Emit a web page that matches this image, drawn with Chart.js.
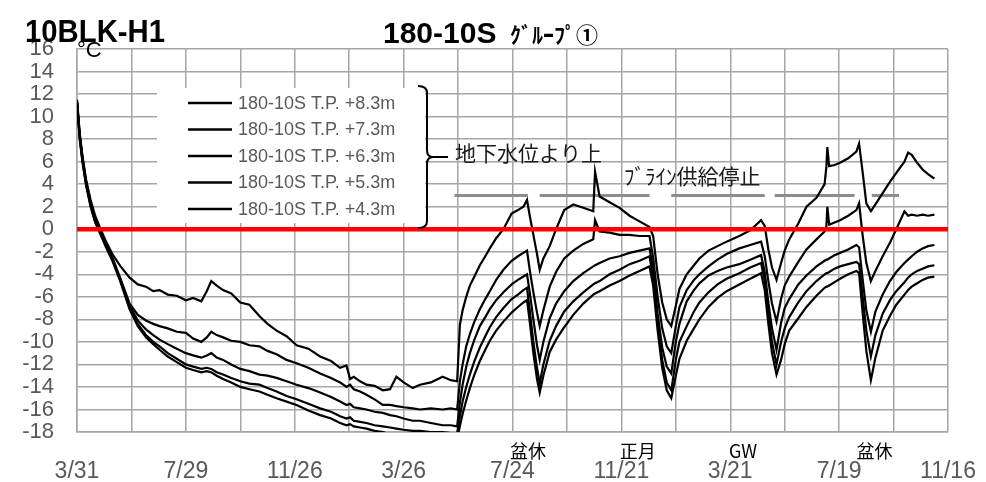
<!DOCTYPE html>
<html>
<head>
<meta charset="utf-8">
<script src="https://cdn.jsdelivr.net/npm/chart.js@4.4.1/dist/chart.umd.min.js"></script>
<style>
  html, body { margin: 0; padding: 0; background: #fff; }
  #wrap { width: 986px; height: 482px; }
</style>
</head>
<body>
<div id="wrap"><canvas id="chart" width="986" height="482"></canvas></div>
<script>
// x axis is days since 3/31, gridline every 60 days, label every 120
var xTickLabels = ['3/31', '7/29', '11/26', '3/26', '7/24', '11/21', '3/21', '7/19', '11/16'];

var days = [
  0, 3, 6, 10, 15, 20, 25, 32, 39, 48,
  58, 67, 76, 84, 91, 100, 110, 120, 128, 137,
  143, 148, 154, 161, 170, 180, 190, 201, 210, 220,
  231, 242, 255, 268, 280, 290, 297, 301, 305, 312,
  319, 328, 337, 345, 352, 360, 370, 378, 390, 403,
  412, 419,
  422, 425, 429, 433, 438, 444, 450, 455, 462, 470,
  479, 486, 492, 496, 499, 503, 507, 510, 514, 521,
  528, 537, 547, 558, 569, 571, 576, 587, 598, 609,
  620, 631, 635, 640, 645, 650, 655, 660, 664, 672,
  680, 686, 696, 706, 716, 730, 742, 754, 758, 762,
  766, 771, 776, 780, 785, 795, 804, 815, 824, 826,
  827, 829, 835, 841, 850, 859, 862, 866, 870, 875,
  880, 888, 896, 903, 912, 916, 920, 926, 932, 938,
  945
];

var tp83 = [
  11.5, 8.5, 6.5, 4.4, 2.6, 1.2, 0.2, -1.1, -2.2, -3.3,
  -4.3, -4.9, -5.1, -5.5, -5.4, -5.8, -5.9, -6.3, -6.1, -6.4,
  -5.5, -4.6, -5.0, -5.4, -5.7, -6.5, -6.7, -7.7, -8.4, -9.0,
  -9.5, -10.3, -10.6, -11.3, -11.7, -12.3, -12.1, -13.3, -13.1, -13.5,
  -13.8, -13.9, -14.3, -14.2, -13.1, -13.6, -14.1, -13.8, -13.6, -13.1,
  -13.4, -13.5,
  -8.5, -7.2, -6.0, -5.0, -4.2, -3.2, -2.4, -1.7, -0.8, 0.0,
  1.4, 1.7, 2.0, 2.6, 1.2, -0.5, -2.2, -3.6, -2.6, -1.5,
  0.0, 1.7, 2.2, 1.9, 1.6, 5.1, 2.9, 2.4, 1.9, 1.2,
  0.7, 0.2, -0.6, -4.0, -6.5, -8.0, -8.6, -6.8, -5.3, -4.0,
  -3.2, -2.6, -1.9, -1.5, -1.1, -0.6, -0.1, 0.8, 0.3, -1.8,
  -3.4, -4.5, -3.0, -1.9, -0.9, 0.5, 2.0, 2.8, 4.0, 5.6,
  7.3, 5.6, 5.7, 5.9, 6.3, 6.9, 7.6, 5.0, 2.3, 1.6,
  2.2, 3.2, 4.2, 5.0, 6.0, 6.8, 6.6, 5.9, 5.3, 4.9,
  4.5
];

var tp73 = [
  11.4, 8.4, 6.4, 4.3, 2.4, 1.0, 0.0, -1.3, -2.5, -4.4,
  -6.6, -7.6, -8.1, -8.4, -8.6, -8.8, -9.1, -9.2, -9.7, -10.0,
  -9.6, -9.1, -9.4, -9.6, -9.9, -10.0, -10.3, -10.4, -10.8, -11.1,
  -11.6, -11.9, -12.3, -12.8, -13.2, -13.6, -14.0, -13.8, -14.2, -14.4,
  -14.7, -15.1, -15.6, -15.6, -15.7, -15.8, -15.9, -16.0, -15.9, -16.0,
  -15.9, -16.0,
  -13.5, -12.0, -10.4, -9.3, -8.2, -7.1, -6.2, -5.5, -4.5, -3.6,
  -2.8, -2.4, -2.1, -1.9, -3.6, -5.6, -7.4, -8.6, -7.2, -5.1,
  -3.8, -2.6, -1.9, -1.3, -0.9, 0.8, -0.2, -0.3, -0.5, -0.5,
  -0.6, -0.6, -2.5, -6.0, -8.8, -10.4, -11.0, -8.6, -6.9, -5.4,
  -4.5, -4.0, -3.3, -2.7, -2.2, -1.7, -1.4, -1.1, -2.4, -4.6,
  -6.6, -8.2, -6.2, -5.0, -4.2, -2.9, -1.8, -0.9, -0.2, 0.3,
  2.0, 0.4, 0.6, 0.8, 1.2, 1.7, 2.3, -0.6, -3.0, -4.6,
  -3.7, -2.4, -1.2, 0.0, 1.6, 1.2, 1.3, 1.2, 1.3, 1.2,
  1.3
];

var tp63 = [
  11.3, 8.2, 6.2, 4.1, 2.2, 0.8, -0.1, -1.4, -2.6, -4.5,
  -6.8, -8.1, -8.9, -9.4, -9.8, -10.2, -10.6, -11.0, -11.2, -11.4,
  -11.2, -11.0, -11.4, -11.6, -12.0, -12.4, -12.6, -12.9, -13.0, -13.2,
  -13.5, -13.8, -14.1, -14.5, -14.9, -15.3, -15.6, -15.5, -15.8, -15.9,
  -16.0, -16.2, -16.3, -16.5, -16.6, -16.8, -17.0, -17.0, -17.2, -17.4,
  -17.4, -17.5,
  -15.4, -13.8, -12.2, -11.0, -9.8, -8.6, -7.8, -7.1, -6.3, -5.6,
  -4.9, -4.5, -4.2, -4.0, -5.6, -8.0, -10.3, -11.6, -10.0, -7.9,
  -6.6, -5.5, -4.6, -3.9, -3.3, -3.2, -3.0, -2.6, -2.4, -2.1,
  -1.9, -1.7, -3.5, -7.5, -10.5, -12.2, -12.8, -10.0, -8.4, -6.4,
  -5.4, -4.8, -4.1, -3.7, -3.4, -3.1, -2.7, -2.3, -3.8, -6.5,
  -8.8, -10.7, -8.3, -7.0, -6.2, -4.9, -4.1, -3.3, -2.8, -2.7,
  -2.7, -2.6, -2.3, -2.1, -1.8, -1.4, -1.6, -4.5, -7.2, -9.1,
  -7.3, -5.8, -4.6, -3.8, -3.0, -2.7, -2.4, -2.0, -1.7, -1.5,
  -1.4
];

var tp53 = [
  11.3, 8.1, 6.1, 4.0, 2.1, 0.7, -0.2, -1.5, -2.7, -4.6,
  -7.0, -8.4, -9.4, -10.0, -10.4, -11.0, -11.5, -12.0, -12.2, -12.4,
  -12.3, -12.4, -12.7, -12.9, -13.2, -13.5, -13.7, -13.8, -14.1, -14.4,
  -14.8, -15.1, -15.5, -15.9, -16.2, -16.6, -16.8, -16.7, -17.0, -17.1,
  -17.2, -17.4, -17.5, -17.6, -17.7, -17.8, -17.9, -17.9, -18.0, -18.0,
  -18.1, -18.1,
  -16.6, -15.3, -14.0, -12.9, -11.7, -10.5, -9.5, -8.7, -7.8, -7.0,
  -6.2, -5.8, -5.4, -5.2, -7.2, -10.0, -12.3, -13.7, -12.0, -9.9,
  -8.6, -7.3, -6.4, -5.6, -4.9, -4.8, -4.6, -4.0, -3.6, -3.1,
  -2.8, -2.4, -4.3, -8.3, -11.6, -13.6, -14.3, -11.6, -10.0, -8.6,
  -7.3, -6.5, -5.6, -4.9, -4.4, -3.9, -3.4, -3.0, -4.6, -7.5,
  -10.0, -12.0, -10.0, -8.8, -7.8, -6.5, -5.5, -4.6, -4.0, -3.9,
  -3.9, -3.8, -3.5, -3.3, -3.1, -2.9, -3.1, -6.0, -9.0, -11.3,
  -9.4, -7.5, -6.3, -5.5, -4.7, -4.3, -4.0, -3.7, -3.5, -3.3,
  -3.2
];

var tp43 = [
  11.2, 8.0, 6.0, 3.9, 2.0, 0.6, -0.3, -1.6, -2.8, -4.7,
  -7.1, -8.6, -9.6, -10.2, -10.7, -11.3, -11.8, -12.3, -12.5, -12.7,
  -12.6, -12.7, -13.0, -13.3, -13.6, -14.0, -14.2, -14.4, -14.7, -15.0,
  -15.3, -15.6, -16.1, -16.5, -16.8, -17.2, -17.4, -17.3, -17.5, -17.6,
  -17.7, -17.9, -18.0, -18.2, -18.3, -18.4, -18.5, -18.5, -18.6, -18.6,
  -18.6, -18.6,
  -17.5, -16.4, -15.2, -14.1, -12.9, -11.7, -10.7, -9.9, -9.0, -8.2,
  -7.4, -6.9, -6.5, -6.3, -8.2, -11.0, -13.3, -14.5, -13.0, -10.9,
  -9.8, -8.7, -7.6, -6.6, -5.8, -5.7, -5.5, -5.0, -4.6, -4.1,
  -3.7, -3.3, -5.0, -9.0, -12.3, -14.3, -15.0, -13.0, -11.5, -9.9,
  -8.8, -8.0, -6.9, -6.1, -5.5, -4.9, -4.4, -3.9, -5.4, -8.4,
  -11.0, -12.9, -11.6, -10.2, -9.0, -7.9, -6.9, -5.9, -5.2, -5.1,
  -5.1, -5.0, -4.7, -4.4, -4.0, -3.7, -3.9, -7.5, -10.8, -13.4,
  -11.4, -9.0, -7.7, -6.7, -5.8, -5.4, -5.1, -4.8, -4.5, -4.3,
  -4.2
];

var seriesNames = ['180-10S T.P. +8.3m', '180-10S T.P. +7.3m', '180-10S T.P. +6.3m',
                   '180-10S T.P. +5.3m', '180-10S T.P. +4.3m'];
var seriesValues = [tp83, tp73, tp63, tp53, tp43];

// periods marked by the grey bars (day from, day to), drawn at +3
var brineStops = [[416, 497], [510, 631], [655, 758], [769, 857], [876, 906]];
var brineLevel = 3;

var holidayNames = ['盆休', '正月', 'GW', '盆休'];
var holidayDays = [497, 618, 734, 879];

var sansFont = "'Liberation Sans', Arial, sans-serif";
var jpFont = "'Noto Sans CJK JP', 'Noto Sans', sans-serif";

function toPoints(vals) {
  return days.map(function(d, i) { return { x: d, y: vals[i] }; });
}

var brinePoints = [];
brineStops.forEach(function(s) {
  brinePoints.push({ x: s[0], y: brineLevel });
  brinePoints.push({ x: s[1], y: brineLevel });
  brinePoints.push({ x: s[1] + 1, y: null });
});

var datasets = [{
  data: [{ x: 0, y: 0 }, { x: 960, y: 0 }],
  borderColor: '#ff0000',
  borderWidth: 4.5,
  order: 0
}];
seriesValues.forEach(function(vals, i) {
  datasets.push({
    label: seriesNames[i],
    data: toPoints(vals),
    borderColor: '#000000',
    borderWidth: 2.2,
    order: 1
  });
});
datasets.push({
  data: brinePoints,
  borderColor: '#8c8c8c',
  borderWidth: 3,
  spanGaps: false,
  order: 2
});

// legend box, brace, notes and titles drawn on top
var overlay = {
  id: 'overlay',
  afterDraw: function(chart) {
    var ctx = chart.ctx;
    var xs = chart.scales.x;
    ctx.save();

    // legend
    ctx.fillStyle = '#ffffff';
    ctx.fillRect(157, 88, 268, 135);
    ctx.textBaseline = 'middle';
    ctx.textAlign = 'left';
    ctx.font = '18px ' + sansFont;
    seriesNames.forEach(function(name, i) {
      var y = 103 + i * 26.5;
      ctx.strokeStyle = '#000';
      ctx.lineWidth = 2.5;
      ctx.beginPath();
      ctx.moveTo(188, y);
      ctx.lineTo(232, y);
      ctx.stroke();
      ctx.fillStyle = '#595959';
      ctx.fillText(name, 238, y + 1, 159);
    });

    // brace
    ctx.strokeStyle = '#000';
    ctx.lineWidth = 2;
    ctx.beginPath();
    ctx.moveTo(418, 86);
    ctx.quadraticCurveTo(427, 86, 427, 93);
    ctx.lineTo(427, 150);
    ctx.quadraticCurveTo(427, 157, 433, 157);
    ctx.quadraticCurveTo(427, 157, 427, 164);
    ctx.lineTo(427, 221);
    ctx.quadraticCurveTo(427, 228, 418, 228);
    ctx.stroke();
    ctx.beginPath();
    ctx.moveTo(431, 157);
    ctx.lineTo(448, 157);
    ctx.stroke();

    ctx.fillStyle = '#1a1a1a';
    ctx.font = '21px ' + jpFont;
    ctx.fillText('地下水位より上', 455, 153, 148);
    ctx.fillText('ﾌﾞﾗｲﾝ供給停止', 624, 176, 145);

    // holiday notes under the axis
    ctx.fillStyle = '#000';
    ctx.textAlign = 'center';
    ctx.font = '18px ' + jpFont;
    holidayNames.forEach(function(t, i) {
      ctx.fillText(t, xs.getPixelForValue(holidayDays[i]), 451);
    });

    // titles
    ctx.textAlign = 'left';
    ctx.textBaseline = 'alphabetic';
    ctx.font = 'bold 32px ' + sansFont;
    ctx.fillText('10BLK-H1', 25, 42, 140);
    ctx.font = 'bold 30px ' + sansFont;
    ctx.fillText('180-10S', 383, 43, 117);
    ctx.font = 'bold 22px ' + jpFont;
    ctx.fillText('ｸﾞﾙｰﾌﾟ①', 510, 43, 90);
    ctx.font = '22px ' + sansFont;
    ctx.fillText('°C', 77, 57);

    ctx.restore();
  }
};

new Chart(document.getElementById('chart'), {
  type: 'line',
  data: { datasets: datasets },
  options: {
    responsive: false,
    animation: false,
    events: [],
    layout: { autoPadding: false, padding: { top: 49, right: 38, left: 0, bottom: 0 } },
    elements: { point: { radius: 0 }, line: { tension: 0 } },
    plugins: { legend: { display: false }, tooltip: { enabled: false } },
    scales: {
      x: {
        type: 'linear',
        min: 0,
        max: 960,
        afterFit: function(scale) {
          scale.height = 50;
          scale.paddingLeft = 0;
          scale.paddingRight = 0;
        },
        grid: { color: '#a6a6a6', lineWidth: 1.5, drawTicks: false },
        border: { color: '#a6a6a6', width: 1.5 },
        ticks: {
          stepSize: 60,
          autoSkip: false,
          maxRotation: 0,
          padding: 26,
          color: '#595959',
          font: { family: sansFont, size: 23 },
          callback: function(v) { return v % 120 === 0 ? xTickLabels[v / 120] : ''; }
        }
      },
      y: {
        min: -18,
        max: 16,
        afterFit: function(scale) {
          scale.width = 77;
          scale.paddingTop = 0;
          scale.paddingBottom = 0;
        },
        grid: { color: '#a6a6a6', lineWidth: 1.5, drawTicks: false },
        border: { color: '#a6a6a6', width: 1.5 },
        ticks: {
          stepSize: 2,
          autoSkip: false,
          padding: 23,
          color: '#595959',
          font: { family: sansFont, size: 22 }
        }
      }
    }
  },
  plugins: [overlay]
});
</script>
</body>
</html>
